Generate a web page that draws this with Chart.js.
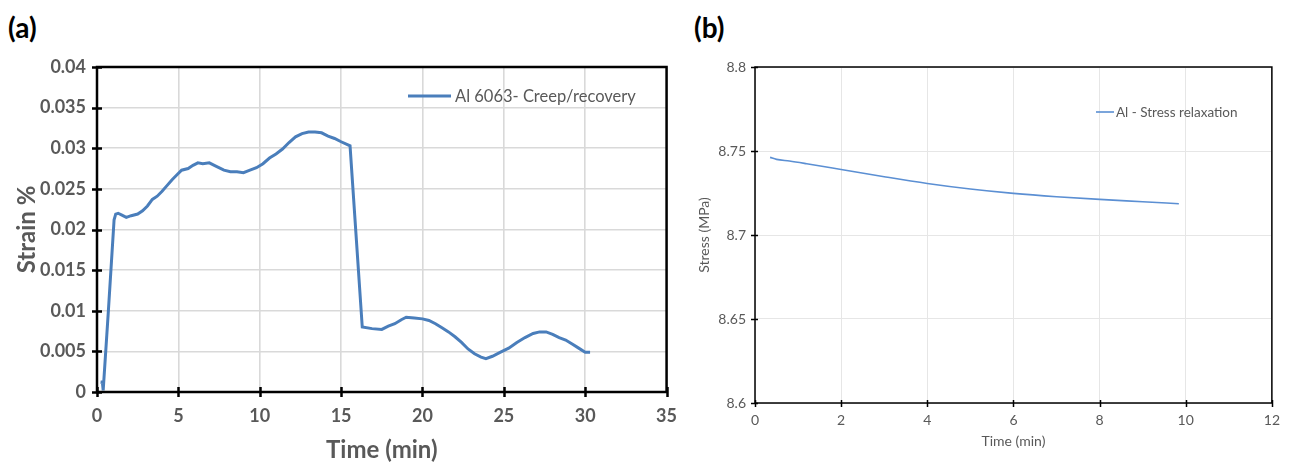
<!DOCTYPE html>
<html>
<head>
<meta charset="utf-8">
<script src="https://cdn.jsdelivr.net/npm/chart.js@4.4.1/dist/chart.umd.min.js"></script>
<style>
  html, body { margin: 0; padding: 0; background: #ffffff; }
  body { width: 1289px; height: 462px; position: relative; overflow: hidden; font-family: Lato, "Open Sans", sans-serif; }
  .panel { position: absolute; top: 0; }
  .tag { position: absolute; font-family: Lato, sans-serif; font-weight: bold; font-size: 28px; color: #000; line-height: 1; }
</style>
</head>
<body>
<div class="tag" style="left:8px; top:13px;">(a)</div>
<div class="tag" style="left:694px; top:13px;">(b)</div>
<canvas id="ca" class="panel" style="left:0px;" width="690" height="462"></canvas>
<canvas id="cb" class="panel" style="left:690px;" width="599" height="462"></canvas>
<script>
// ---------- Panel (a): creep / recovery ----------
const timeA = [0.30, 0.32, 0.38, 0.69, 1.05, 1.15, 1.30, 1.50, 1.80, 2.10, 2.50, 2.80, 3.10, 3.40, 3.70, 4.00, 4.30, 4.60, 4.90, 5.20, 5.60, 5.90, 6.20, 6.50, 6.90, 7.30, 7.80, 8.20, 8.60, 9.00, 9.40, 9.80, 10.20, 10.60, 11.00, 11.40, 11.80, 12.20, 12.60, 13.00, 13.40, 13.80, 14.20, 14.60, 15.00, 15.55, 16.30, 16.90, 17.50, 17.90, 18.30, 18.70, 19.00, 19.50, 20.00, 20.40, 20.80, 21.20, 21.60, 22.00, 22.40, 22.80, 23.20, 23.60, 23.90, 24.30, 24.80, 25.30, 25.80, 26.30, 26.80, 27.20, 27.60, 28.00, 28.40, 28.80, 29.20, 29.60, 30.00, 30.30];
const strainA = [0.0010, 0.0014, 0.0002, 0.0097, 0.0212, 0.0219, 0.0220, 0.0218, 0.0215, 0.0217, 0.0219, 0.0223, 0.0229, 0.0237, 0.0241, 0.0247, 0.0254, 0.0261, 0.0267, 0.0273, 0.0275, 0.0279, 0.0282, 0.0281, 0.0282, 0.0278, 0.0273, 0.0271, 0.0271, 0.0270, 0.0273, 0.0276, 0.0281, 0.0288, 0.0293, 0.0299, 0.0307, 0.0314, 0.0318, 0.0320, 0.0320, 0.0319, 0.0315, 0.0312, 0.0308, 0.0303, 0.0080, 0.0078, 0.0077, 0.0081, 0.0084, 0.0089, 0.0092, 0.0091, 0.0090, 0.0088, 0.0084, 0.0079, 0.0074, 0.0068, 0.0061, 0.0053, 0.0047, 0.0043, 0.0041, 0.0044, 0.0049, 0.0054, 0.0061, 0.0067, 0.0072, 0.0074, 0.0074, 0.0071, 0.0067, 0.0064, 0.0059, 0.0054, 0.0049, 0.0049];
const xTicksA = [0, 5, 10, 15, 20, 25, 30, 35];
const yTicksA = [0, 0.005, 0.01, 0.015, 0.02, 0.025, 0.03, 0.035, 0.04];
const labelA = "Al 6063- Creep/recovery";

// ---------- Panel (b): stress relaxation ----------
const timeB = [0.35, 0.50, 0.80, 1.20, 2.00, 3.00, 4.00, 5.00, 6.00, 7.00, 8.00, 9.00, 9.84];
const stressB = [8.7462, 8.7450, 8.7440, 8.7424, 8.7390, 8.7347, 8.7307, 8.7274, 8.7248, 8.7228, 8.7212, 8.7198, 8.7186];
const xTicksB = [0, 2, 4, 6, 8, 10, 12];
const yTicksB = [8.6, 8.65, 8.7, 8.75, 8.8];
const labelB = "Al - Stress relaxation";

const GRAY = '#595959';

function pts(xs, ys) { return xs.map((x, i) => ({ x: x, y: ys[i] })); }
function fixTicks(arr) { return function (s) { s.ticks = arr.map(v => ({ value: v })); }; }

const framePlugin = {
  id: 'frame',
  afterDraw(chart, args, o) {
    const { ctx, chartArea: a } = chart;
    const xs = chart.scales.x, ys = chart.scales.y;
    ctx.save();
    ctx.strokeStyle = '#000';
    ctx.lineWidth = o.tickWidth;
    ctx.beginPath();
    xs.ticks.forEach(t => {
      const px = Math.round(xs.getPixelForValue(t.value)) + 0.5;
      ctx.moveTo(px, a.bottom - o.tickIn);
      ctx.lineTo(px, a.bottom + o.tickOut);
    });
    ys.ticks.forEach(t => {
      const py = Math.round(ys.getPixelForValue(t.value)) + 0.5;
      ctx.moveTo(a.left - o.tickOut, py);
      ctx.lineTo(a.left + o.tickIn, py);
    });
    ctx.stroke();
    ctx.lineWidth = o.frameWidth;
    ctx.strokeStyle = '#000';
    ctx.strokeRect(a.left, a.top, a.right - a.left, a.bottom - a.top);
    const L = o.legend;
    ctx.strokeStyle = chart.data.datasets[0].borderColor;
    ctx.lineWidth = L.lineWidth;
    ctx.beginPath();
    ctx.moveTo(L.x1, L.y);
    ctx.lineTo(L.x2, L.y);
    ctx.stroke();
    ctx.fillStyle = GRAY;
    ctx.font = L.font;
    ctx.textBaseline = 'middle';
    ctx.textAlign = 'left';
    ctx.fillText(chart.data.datasets[0].label, L.x2 + L.gap, L.y + 1);
    ctx.restore();
  }
};

// Panel (a)
new Chart(document.getElementById('ca'), {
  type: 'line',
  data: {
    datasets: [{
      label: labelA,
      data: pts(timeA, strainA),
      borderColor: '#4A7EBB',
      borderWidth: 3,
      pointRadius: 0,
      tension: 0,
      fill: false
    }]
  },
  options: {
    responsive: false,
    animation: false,
    layout: { padding: { left: 0, top: 67, right: 20, bottom: 0 } },
    plugins: {
      legend: { display: false },
      tooltip: { enabled: false },
      frame: {
        frameWidth: 2.5, tickWidth: 2.5, tickIn: 5, tickOut: 5,
        legend: { x1: 408, x2: 451, y: 96, gap: 4, lineWidth: 3, font: '16.5px Lato' }
      }
    },
    scales: {
      x: {
        type: 'linear', min: 0, max: 35,
        afterBuildTicks: fixTicks(xTicksA),
        afterFit: s => { s.height = 70; },
        grid: { color: '#d9d9d9', lineWidth: 1.6, drawTicks: false },
        border: { display: false },
        ticks: { color: GRAY, font: { family: 'Lato', size: 18, weight: 'bold' }, padding: 13, maxRotation: 0 },
        title: { display: true, text: 'Time (min)', color: GRAY, font: { family: 'Lato', size: 24, weight: 'bold', lineHeight: 1 }, padding: { top: 0, bottom: 0 } }
      },
      y: {
        type: 'linear', min: 0, max: 0.04,
        afterBuildTicks: fixTicks(yTicksA),
        afterFit: s => { s.width = 97; },
        grid: { color: '#d9d9d9', lineWidth: 1.6, drawTicks: false },
        border: { display: false },
        ticks: { color: GRAY, font: { family: 'Lato', size: 18, weight: 'bold' }, padding: 11, callback: v => String(+(+v).toFixed(3)) },
        title: { display: true, text: 'Strain %', color: GRAY, font: { family: 'Lato', size: 24, weight: 'bold' }, padding: { top: 13, bottom: 0 } }
      }
    }
  },
  plugins: [framePlugin]
});

// Panel (b)
new Chart(document.getElementById('cb'), {
  type: 'line',
  data: {
    datasets: [{
      label: labelB,
      data: pts(timeB, stressB),
      borderColor: '#5B8FD3',
      borderWidth: 1.6,
      pointRadius: 0,
      cubicInterpolationMode: 'monotone',
      fill: false
    }]
  },
  options: {
    responsive: false,
    animation: false,
    layout: { padding: { left: 0, top: 67, right: 15, bottom: 0 } },
    plugins: {
      legend: { display: false },
      tooltip: { enabled: false },
      frame: {
        frameWidth: 1.5, tickWidth: 1.5, tickIn: 3, tickOut: 4,
        legend: { x1: 406, x2: 424, y: 112, gap: 2, lineWidth: 1.6, font: '13.5px Lato' }
      }
    },
    scales: {
      x: {
        type: 'linear', min: 0, max: 12,
        afterBuildTicks: fixTicks(xTicksB),
        afterFit: s => { s.height = 59; },
        grid: { color: '#e6e6e6', lineWidth: 1, drawTicks: false },
        border: { display: false },
        ticks: { color: GRAY, font: { family: 'Lato', size: 14 }, padding: 9, maxRotation: 0 },
        title: { display: true, text: 'Time (min)', color: GRAY, font: { family: 'Lato', size: 14 }, padding: { top: 0, bottom: 12 } }
      },
      y: {
        type: 'linear', min: 8.6, max: 8.8,
        afterBuildTicks: fixTicks(yTicksB),
        afterFit: s => { s.width = 65; },
        grid: { color: '#e6e6e6', lineWidth: 1, drawTicks: false },
        border: { display: false },
        ticks: { color: GRAY, font: { family: 'Lato', size: 14 }, padding: 9, callback: v => String(+(+v).toFixed(2)) },
        title: { display: true, text: 'Stress (MPa)', color: GRAY, font: { family: 'Lato', size: 14 }, padding: { top: 6, bottom: 0 } }
      }
    }
  },
  plugins: [framePlugin]
});
</script>
</body>
</html>
